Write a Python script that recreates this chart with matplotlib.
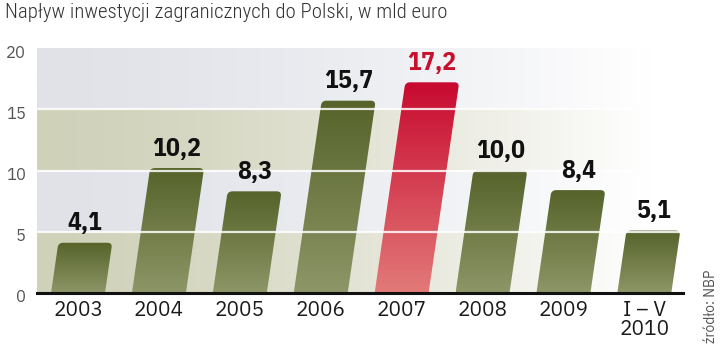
import numpy as np
import matplotlib
matplotlib.use('Agg')
import matplotlib.pyplot as plt
from matplotlib.path import Path
from matplotlib.patches import PathPatch
from matplotlib.colors import to_rgb
import matplotlib.transforms as mtransforms

# data
years = ['2003', '2004', '2005', '2006', '2007', '2008', '2009', 'I – V\n2010']
values = [4.1, 10.2, 8.3, 15.7, 17.2, 10.0, 8.4, 5.1]
value_labels = ['4,1', '10,2', '8,3', '15,7', '17,2', '10,0', '8,4', '5,1']
highlight = '2007'

# fonts (first installed one wins, DejaVu as last resort)
cond = ['IBM Plex Sans Condensed', 'Roboto Condensed', 'Barlow Condensed', 'Liberation Sans Narrow', 'DejaVu Sans']
title_font = ['Roboto Condensed', 'IBM Plex Sans Condensed', 'DejaVu Sans']
plain = ['IBM Plex Sans', 'Liberation Sans', 'DejaVu Sans']

W, H = 720, 346
fig = plt.figure(figsize=(W / 100, H / 100), dpi=100)
fig.patch.set_facecolor('white')

# plot area in pixels
left_px, right_px, base_px, top_px = 37, 683, 293, 48
ax = fig.add_axes([left_px / W, (H - base_px) / H, (right_px - left_px) / W, (base_px - top_px) / H])

xmin, xmax = -0.507, 7.478
ymin, ymax = 0, 20

# background bands fading to white on the right
olive = np.array(to_rgb('#d0d1b9'))
grey = np.array(to_rgb('#e0e2e8'))
xs = np.linspace(0, 1, 400)
t = np.clip(xs / 0.95, 0, 1) ** 1.4
for lo, hi in [(0, 5), (5, 10), (10, 15), (15, 20)]:
    col = olive if (lo // 5) % 2 == 0 else grey
    row = col[None, :] * (1 - t[:, None]) + np.ones(3)[None, :] * t[:, None]
    ax.imshow(row[None, :, :], extent=[xmin, xmax, lo, hi], aspect='auto', zorder=0,
              interpolation='bilinear')

# slanted bars with rounded top corners and vertical gradient
w = 0.667
k = 0.0220  # horizontal slant per unit of value
rx, ry = 0.06, 0.38


def bar_path(xc, v):
    x0 = xc - w / 2
    s = k * v
    verts = [
        (x0, 0), (x0 + w, 0),
        (x0 + w + k * (v - ry), v - ry),
        (x0 + w + s, v), (x0 + w + s - rx, v),
        (x0 + s + rx, v),
        (x0 + s, v), (x0 + k * (v - ry), v - ry),
        (x0, 0),
    ]
    codes = [Path.MOVETO, Path.LINETO, Path.LINETO,
             Path.CURVE3, Path.CURVE3, Path.LINETO,
             Path.CURVE3, Path.CURVE3, Path.CLOSEPOLY]
    return Path(verts, codes)


for i, (yr, v) in enumerate(zip(years, values)):
    if yr == highlight:
        top_c, bot_c = np.array(to_rgb('#c80a30')), np.array(to_rgb('#e27a78'))
    else:
        top_c, bot_c = np.array(to_rgb('#56632a')), np.array(to_rgb('#8d9667'))
    patch = PathPatch(bar_path(i, v), facecolor='none', edgecolor='none', zorder=2)
    ax.add_patch(patch)
    g = np.linspace(0, 1, 100)[:, None]
    grad = top_c[None, :] * (1 - g) + bot_c[None, :] * g
    im = ax.imshow(grad[:, None, :], extent=[i - w / 2, i - w / 2 + w + k * v + 0.01, 0, v],
                   aspect='auto', zorder=2, interpolation='bilinear')
    im.set_clip_path(patch)
    ax.annotate(value_labels[i], xy=(i + k * v, v), xytext=(0, 9), textcoords='offset points',
                ha='center', va='baseline', fontsize=18.5, fontweight='bold', family=cond,
                color='#c8102e' if yr == highlight else '#111111', zorder=4)

ax.set_xlim(xmin, xmax)
ax.set_ylim(ymin, ymax)

# white grid lines on top of bars
for gy in [5, 10, 15]:
    ax.axhline(gy, color='white', lw=1.6, alpha=0.85, zorder=3)

ax.axhline(0, color='#111111', lw=2.2, zorder=5, clip_on=False)

for sp in ax.spines.values():
    sp.set_visible(False)

ax.set_xticks(range(len(years)))
ax.set_xticklabels(years, fontsize=15, family=plain, color='#1a1a1a',
                   linespacing=0.95, multialignment='center')
ax.tick_params(axis='x', length=0, pad=6)

ax.set_yticks([0, 5, 10, 15, 20])
ax.set_yticklabels(['0', '5', '10', '15', '20'], fontsize=12, family=plain,
                   fontweight='light', color='#555555')
ax.tick_params(axis='y', length=0, pad=8)
shift = mtransforms.ScaledTranslation(0, -3 / 100, fig.dpi_scale_trans)
for lab in ax.get_yticklabels():
    lab.set_transform(lab.get_transform() + shift)

fig.text(5 / W, 1 - 3 / H, 'Napływ inwestycji zagranicznych do Polski, w mld euro',
         ha='left', va='top', fontsize=15, family=title_font, fontweight='light', color='#333333')

fig.text(711 / W, 1 - 343 / H, 'źródło: NBP', rotation=90, ha='center', va='bottom',
         fontsize=10, family=plain, fontweight='light', color='#555555')

fig.savefig('out.png', dpi=100, facecolor='white')
